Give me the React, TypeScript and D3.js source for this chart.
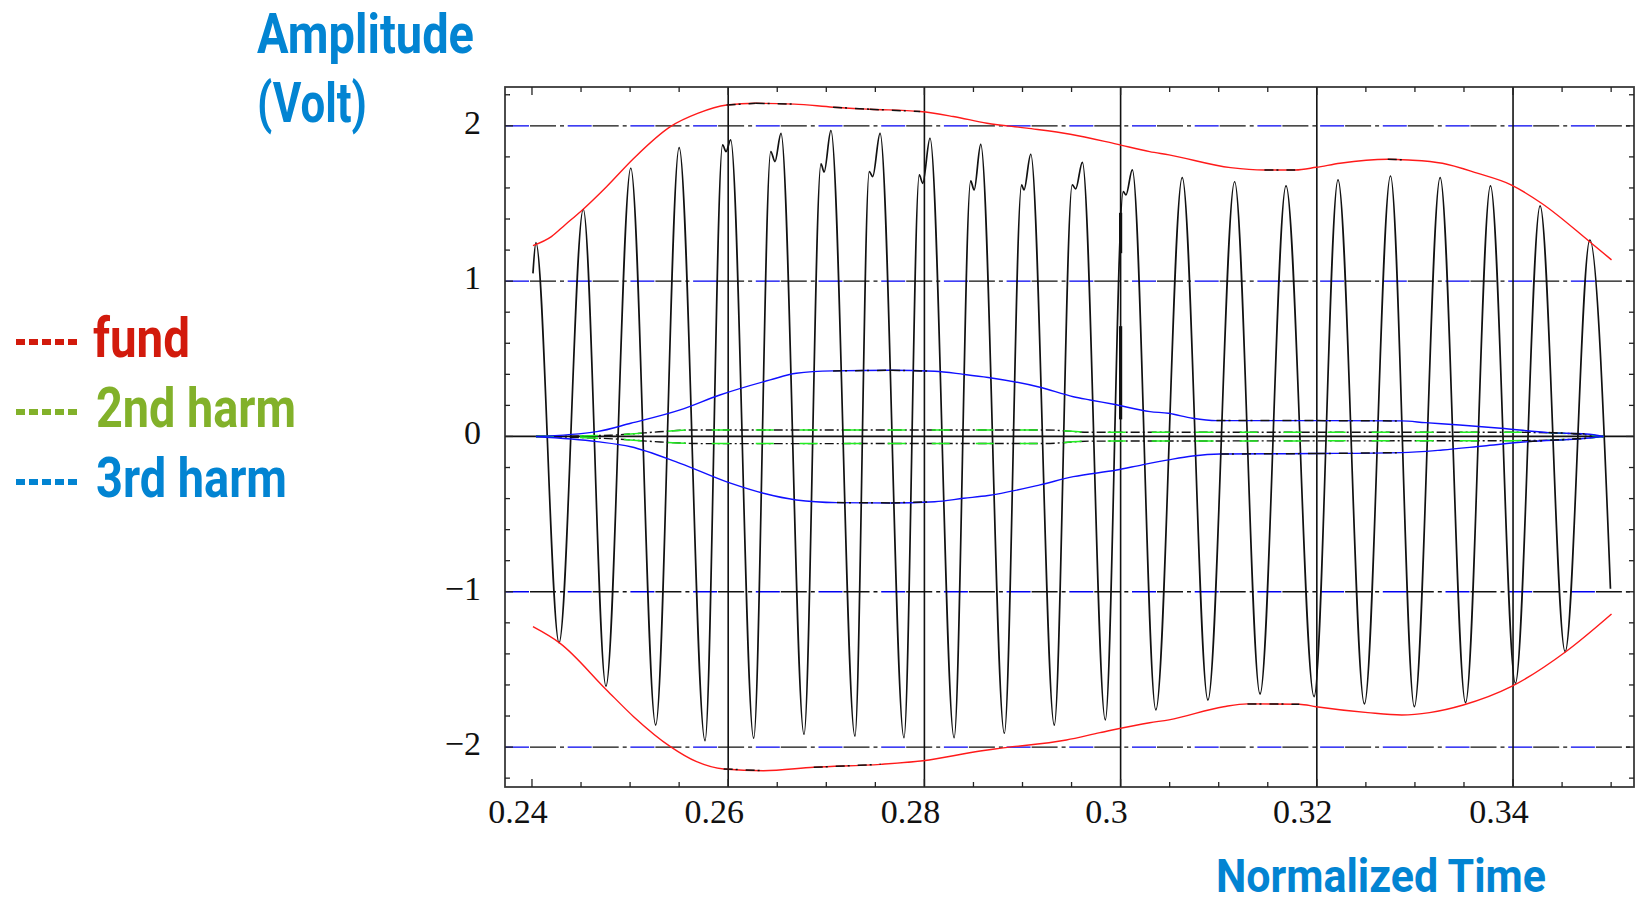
import * as d3 from "d3";

// axis ticks
const xTicks = [0.24, 0.26, 0.28, 0.3, 0.32, 0.34];
const xTickLabels = ["0.24", "0.26", "0.28", "0.3", "0.32", "0.34"];
const yTicks = [-2, -1, 0, 1, 2];
const yTickLabels = ["\u22122", "\u22121", "0", "1", "2"];
const xGrid = [0.26, 0.28, 0.3, 0.32, 0.34];
const yGrid = [-2, -1, 1, 2];

const signalT = [
  0.2401, 0.2404, 0.24276, 0.24523, 0.24754, 0.25007, 0.25261, 0.255, 0.25764,
  0.25943, 0.25978, 0.26025, 0.2626,
  0.26434, 0.26477, 0.26538, 0.26773,
  0.26946, 0.26978, 0.27047, 0.27292,
  0.27438, 0.27473, 0.27548, 0.27792,
  0.27948, 0.27983, 0.28057, 0.28303,
  0.28472, 0.28507, 0.28574, 0.28815,
  0.28991, 0.29015, 0.29084, 0.29324,
  0.29507, 0.29542, 0.2961, 0.29844,
  0.30027, 0.30055, 0.30119, 0.30359,
  0.30628, 0.3089, 0.31162, 0.31421, 0.31686, 0.31972, 0.32216, 0.32485,
  0.32751, 0.32994, 0.33257, 0.33516, 0.3377, 0.34024, 0.34276, 0.34531,
  0.34783, 0.34993,
];
const signalV = [
  1.05, 1.248, -1.328, 1.463, -1.607, 1.727, -1.858, 1.86, -1.959,
  1.877, 1.834, 1.909, -1.943,
  1.834, 1.77, 1.952, -1.918,
  1.755, 1.703, 1.97, -1.929,
  1.705, 1.673, 1.952, -1.94,
  1.684, 1.63, 1.92, -1.94,
  1.645, 1.587, 1.881, -1.911,
  1.62, 1.587, 1.817, -1.858,
  1.62, 1.594, 1.765, -1.825,
  1.576, 1.555, 1.716, -1.761,
  1.667, -1.697, 1.64, -1.658, 1.613, -1.675, 1.652, -1.722,
  1.677, -1.74, 1.667, -1.714, 1.613, -1.589, 1.484, -1.386,
  1.265, -0.98,
];

// thick glitch on the trace at t = 0.30
const glitchT = [0.3, 0.3];
const glitchFrom = [1.44, 0.71];
const glitchTo = [1.18, 0.11];

// fundamental envelope
const fundUpperT = [
  0.2401, 0.24198, 0.24336, 0.24494, 0.2476, 0.25036, 0.25411, 0.25688,
  0.25984, 0.2628, 0.26674, 0.27069, 0.27444, 0.27957, 0.28293, 0.28638,
  0.29043, 0.29487, 0.2996, 0.30296, 0.30493, 0.31121, 0.31466, 0.3178,
  0.31993, 0.32236, 0.32723, 0.32936, 0.3328, 0.33635, 0.3398, 0.34294,
  0.34781, 0.35004,
];
const fundUpperV = [
  1.229, 1.287, 1.362, 1.447, 1.608, 1.79, 1.995, 2.08, 2.134, 2.145, 2.14,
  2.12, 2.107, 2.092, 2.06, 2.017, 1.985, 1.946, 1.882, 1.834, 1.813, 1.731,
  1.716, 1.716, 1.733, 1.759, 1.785, 1.78, 1.759, 1.695, 1.62, 1.5, 1.254,
  1.137,
];
const fundLowerT = [
  0.2401, 0.24287, 0.2476, 0.25036, 0.25411, 0.25678, 0.25954, 0.26359,
  0.26872, 0.27553, 0.27987, 0.28569, 0.28766, 0.29447, 0.2979, 0.30296,
  0.30493, 0.3105, 0.31293, 0.31821, 0.31993, 0.3252, 0.32865, 0.33149,
  0.33493, 0.3398, 0.34537, 0.35004,
];
const fundLowerV = [
  -1.225, -1.332, -1.632, -1.804, -1.997, -2.094, -2.141, -2.152, -2.13,
  -2.111, -2.088, -2.025, -2.008, -1.954, -1.907, -1.843, -1.825, -1.74,
  -1.722, -1.724, -1.74, -1.778, -1.793, -1.778, -1.729, -1.611, -1.386,
  -1.143,
];

// 2nd harmonic envelope
const harm2UpperT = [0.2404, 0.248, 0.25007, 0.25293, 0.25648, 0.2924, 0.29684, 0.3399, 0.346, 0.34923];
const harm2UpperV = [0, 0.008, 0.016, 0.03, 0.042, 0.042, 0.027, 0.027, 0.018, 0];
const harm2LowerT = [0.2404, 0.24898, 0.25244, 0.25737, 0.2924, 0.29684, 0.3399, 0.346, 0.34923];
const harm2LowerV = [0, -0.018, -0.033, -0.046, -0.045, -0.03, -0.027, -0.018, 0];

// 3rd harmonic envelope
const harm3UpperT = [
  0.2404, 0.24662, 0.25007, 0.2551, 0.25915, 0.26428, 0.26694, 0.27069,
  0.27661, 0.28105, 0.28401, 0.2865, 0.29178, 0.29518, 0.29688, 0.2993,
  0.303, 0.30488, 0.30733, 0.30977, 0.32, 0.32863, 0.33106, 0.33456,
  0.33875, 0.34363, 0.34747, 0.34922,
];
const harm3UpperV = [
  0, 0.031, 0.085, 0.171, 0.267, 0.364, 0.407, 0.422, 0.426, 0.42, 0.4, 0.38,
  0.317, 0.256, 0.235, 0.207, 0.16, 0.149, 0.117, 0.102, 0.102, 0.1, 0.089,
  0.074, 0.053, 0.025, 0.016, 0,
];
const harm3LowerT = [
  0.2404, 0.24662, 0.25007, 0.2551, 0.26023, 0.26359, 0.26694, 0.27109,
  0.27661, 0.28105, 0.28401, 0.2865, 0.29178, 0.29518, 0.2996, 0.3022,
  0.30488, 0.30733, 0.31012, 0.32, 0.32863, 0.33281, 0.337, 0.34154,
  0.34747, 0.34922,
];
const harm3LowerV = [
  0, -0.033, -0.066, -0.173, -0.301, -0.366, -0.409, -0.426, -0.428, -0.42,
  -0.398, -0.38, -0.312, -0.259, -0.216, -0.183, -0.151, -0.126, -0.113,
  -0.11, -0.104, -0.087, -0.061, -0.033, -0.012, 0,
];

const legendNames = ["fund", "2nd harm", "3rd harm"];
const legendColors = ["#d21a0c", "#82b12a", "#0284d2"];
const labelBlue = "#0284d2";

const width = 1637;
const height = 902;
const left = 505;
const right = 1634;
const top = 87;
const bottom = 787;

const x = d3.scaleLinear().domain([0.23725, 0.35233]).range([left, right]);
const y = d3.scaleLinear().domain([-2.257, 2.25]).range([bottom, top]);

const xMinor = d3.range(0.24, 0.3501, 0.005);
const yMinor = d3.range(-2.2, 2.201, 0.2);

const curvePath = (ts: number[], vs: number[]) =>
  d3
    .line<number>()
    .x((i) => x(ts[i]))
    .y((i) => y(vs[i]))
    .curve(d3.curveMonotoneX)(d3.range(ts.length)) || "";

// flat stretches of an envelope get the dash-dot overprint seen in the original
const flatSegments = (ts: number[], vs: number[]) => {
  const segs: { x1: number; y1: number; x2: number; y2: number }[] = [];
  for (let i = 0; i < ts.length - 1; i++) {
    const dx = x(ts[i + 1]) - x(ts[i]);
    const dy = y(vs[i + 1]) - y(vs[i]);
    if (Math.abs(dy / dx) < 0.06) {
      segs.push({ x1: x(ts[i]), y1: y(vs[i]), x2: x(ts[i + 1]), y2: y(vs[i + 1]) });
    }
  }
  return segs;
};

const blueFont = "'Liberation Sans Narrow', 'Roboto', 'Open Sans', sans-serif";
const serifFont = "'Liberation Serif', 'DejaVu Serif', serif";

const Envelope = ({ ts, vs, color }: { ts: number[]; vs: number[]; color: string }) => (
  <g>
    <path d={curvePath(ts, vs)} fill="none" stroke={color} strokeWidth={1.4} />
    {flatSegments(ts, vs).map((s, i) => (
      <line
        key={i}
        x1={s.x1}
        y1={s.y1}
        x2={s.x2}
        y2={s.y2}
        stroke="#111"
        strokeWidth={1.5}
        strokeDasharray="9 3 2 8"
      />
    ))}
  </g>
);

const Harm2 = ({ ts, vs }: { ts: number[]; vs: number[] }) => (
  <g>
    <path d={curvePath(ts, vs)} fill="none" stroke="#111" strokeWidth={1.4} strokeDasharray="9 3 2 3" />
    <path d={curvePath(ts, vs)} fill="none" stroke="#22ee22" strokeWidth={1.5} strokeDasharray="18 26" />
  </g>
);

export default function App() {
  const signal = curvePath(signalT, signalV);
  return (
    <svg
      width={width}
      height={height}
      style={{ position: "absolute", left: 0, top: 0, background: "#fff" }}
    >
      <rect width={width} height={height} fill="#fff" />

      {/* horizontal dash-dot grid */}
      {yGrid.map((v) => (
        <g key={"hg" + v}>
          <line x1={left} x2={right} y1={y(v)} y2={y(v)} stroke="#0000ee" strokeWidth={1.4} strokeDasharray="24 38.7" />
          <line
            x1={left}
            x2={right}
            y1={y(v)}
            y2={y(v)}
            stroke="#111"
            strokeWidth={1.4}
            strokeDasharray="26 4 4 28.7"
            strokeDashoffset={37.7}
          />
        </g>
      ))}
      {/* vertical grid */}
      {xGrid.map((t) => (
        <line key={"vg" + t} x1={x(t)} x2={x(t)} y1={top} y2={bottom} stroke="#111" strokeWidth={1.6} />
      ))}
      <line x1={left} x2={right} y1={y(0)} y2={y(0)} stroke="#111" strokeWidth={1.7} />

      {/* waveform */}
      <path d={signal} fill="none" stroke="#111" strokeWidth={1.7} />
      {glitchT.map((t, i) => (
        <line key={"gl" + i} x1={x(t)} x2={x(t)} y1={y(glitchFrom[i])} y2={y(glitchTo[i])} stroke="#111" strokeWidth={3.2} />
      ))}

      {/* envelopes */}
      <Harm2 ts={harm2UpperT} vs={harm2UpperV} />
      <Harm2 ts={harm2LowerT} vs={harm2LowerV} />
      <Envelope ts={harm3UpperT} vs={harm3UpperV} color="#1010ff" />
      <Envelope ts={harm3LowerT} vs={harm3LowerV} color="#1010ff" />
      <Envelope ts={fundUpperT} vs={fundUpperV} color="#ff1a1a" />
      <Envelope ts={fundLowerT} vs={fundLowerV} color="#ff1a1a" />

      {/* frame and ticks */}
      <rect x={left} y={top} width={right - left} height={bottom - top} fill="none" stroke="#3a3a3a" strokeWidth={1.8} />
      {xMinor.map((t, i) => {
        const len = i % 4 === 0 ? 8 : 5;
        return (
          <g key={"xt" + i}>
            <line x1={x(t)} x2={x(t)} y1={bottom} y2={bottom - len} stroke="#222" strokeWidth={1.3} />
            <line x1={x(t)} x2={x(t)} y1={top} y2={top + len} stroke="#222" strokeWidth={1.3} />
          </g>
        );
      })}
      {yMinor.map((v, i) => {
        const len = Math.abs(v - Math.round(v)) < 1e-6 ? 8 : 5;
        return (
          <g key={"yt" + i}>
            <line x1={left} x2={left + len} y1={y(v)} y2={y(v)} stroke="#222" strokeWidth={1.3} />
            <line x1={right} x2={right - len} y1={y(v)} y2={y(v)} stroke="#222" strokeWidth={1.3} />
          </g>
        );
      })}

      {/* tick labels */}
      {xTicks.map((t, i) => (
        <text key={"xl" + i} x={x(t) - 14} y={823} textAnchor="middle" fontFamily={serifFont} fontSize={34} fill="#111">
          {xTickLabels[i]}
        </text>
      ))}
      {yTicks.map((v, i) => (
        <text key={"yl" + i} x={481} y={y(v) + 8} textAnchor="end" fontFamily={serifFont} fontSize={34} fill="#111">
          {yTickLabels[i]}
        </text>
      ))}

      {/* axis titles */}
      <text x={257} y={53} fontFamily={blueFont} fontWeight="bold" fontSize={55} fill={labelBlue} textLength={217} lengthAdjust="spacingAndGlyphs">
        Amplitude
      </text>
      <text x={257} y={122} fontFamily={blueFont} fontWeight="bold" fontSize={55} fill={labelBlue} textLength={110} lengthAdjust="spacingAndGlyphs">
        (Volt)
      </text>
      <text x={1216} y={892} fontFamily={blueFont} fontWeight="bold" fontSize={46} fill={labelBlue} textLength={330} lengthAdjust="spacingAndGlyphs">
        Normalized Time
      </text>

      {/* legend */}
      {legendNames.map((name, i) => {
        const cy = 342 + i * 70;
        const lens = [97, 200, 191];
        return (
          <g key={"lg" + i}>
            <line x1={16} x2={77} y1={cy} y2={cy} stroke={legendColors[i]} strokeWidth={6} strokeDasharray="9 4" />
            <text
              x={i === 0 ? 93 : 96}
              y={cy + 15}
              fontFamily={blueFont}
              fontWeight="bold"
              fontSize={55}
              fill={legendColors[i]}
              textLength={lens[i]}
              lengthAdjust="spacingAndGlyphs"
            >
              {name}
            </text>
          </g>
        );
      })}
    </svg>
  );
}
